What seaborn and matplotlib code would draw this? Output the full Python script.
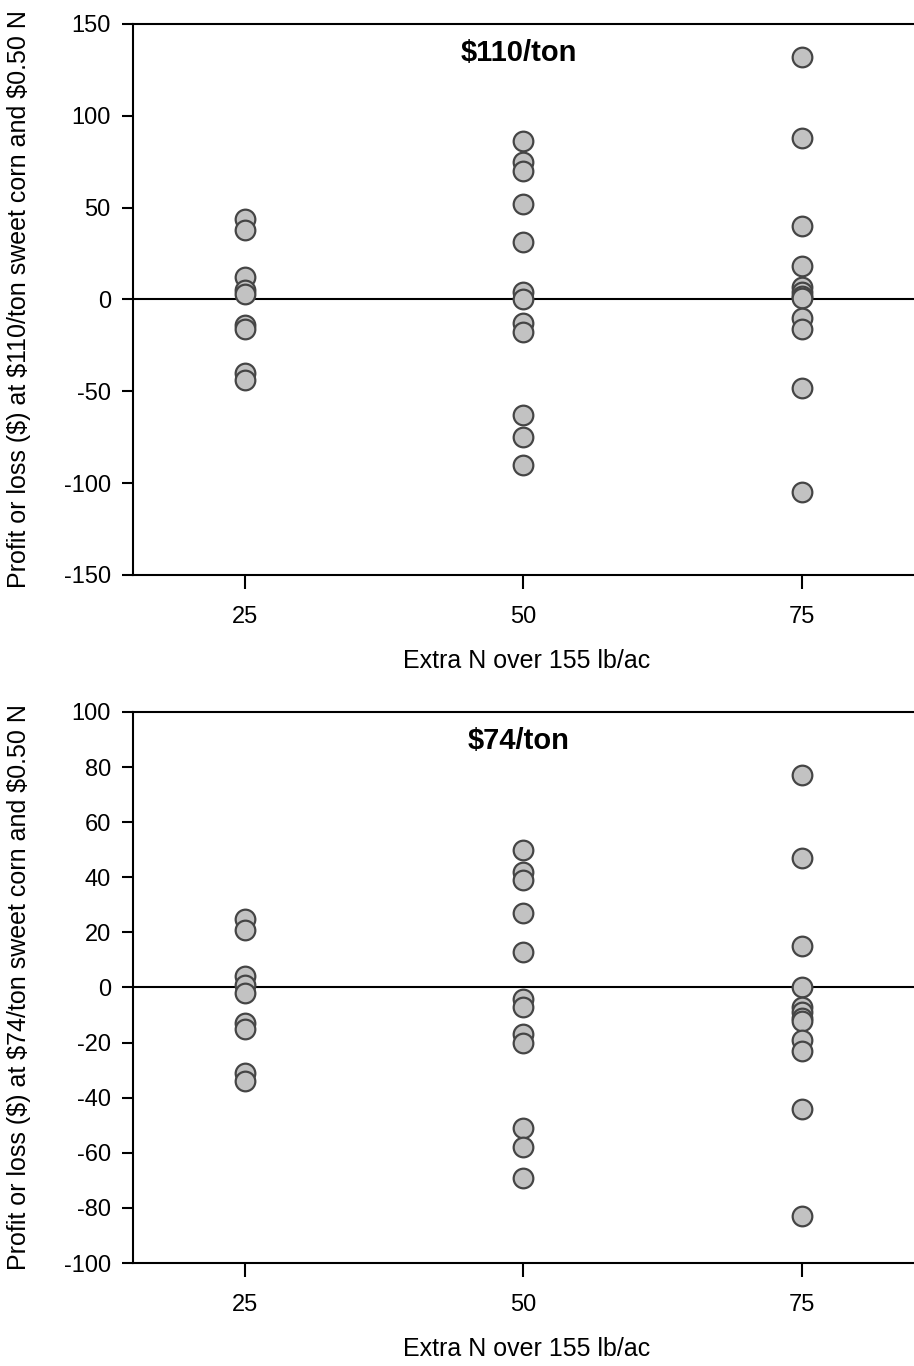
import numpy as np
import pandas as pd
import matplotlib
matplotlib.use("Agg")
import matplotlib.pyplot as plt
import seaborn as sns

# Extra N applied over 155 lb/ac
n_levels = [25, 50, 75]

# Profit or loss ($) at $110/ton sweet corn, $0.50 N
profit_110_n25 = [44, 38, 12, 5, 3, -14, -16, -40, -44]
profit_110_n50 = [86, 75, 70, 52, 31, 4, 0, -13, -18, -63, -75, -90]
profit_110_n75 = [132, 88, 40, 18, 7, 4, 2, 1, -10, -16, -48, -105]

# Profit or loss ($) at $74/ton sweet corn, $0.50 N
profit_74_n25 = [25, 21, 4, 1, -2, -13, -15, -31, -34]
profit_74_n50 = [50, 42, 39, 27, 13, -4, -7, -17, -20, -51, -58, -69]
profit_74_n75 = [77, 47, 15, 0, -7, -9, -11, -12, -19, -23, -44, -83]

panel_titles = ["$110/ton", "$74/ton"]
y_labels = ["Profit or loss ($) at $110/ton sweet corn and $0.50 N",
            "Profit or loss ($) at $74/ton sweet corn and $0.50 N"]
x_label = "Extra N over 155 lb/ac"
y_ticks_top = [-150, -100, -50, 0, 50, 100, 150]
y_ticks_bottom = [-100, -80, -60, -40, -20, 0, 20, 40, 60, 80, 100]


def to_frame(groups):
    rows = []
    for n, vals in zip(n_levels, groups):
        rows += [{"n": n, "profit": v} for v in vals]
    return pd.DataFrame(rows)


df_110 = to_frame([profit_110_n25, profit_110_n50, profit_110_n75])
df_74 = to_frame([profit_74_n25, profit_74_n50, profit_74_n75])

sns.set_style("ticks")
plt.rcParams["font.family"] = ["Liberation Sans", "DejaVu Sans"]
plt.rcParams["axes.unicode_minus"] = False
plt.rcParams["text.color"] = "black"
plt.rcParams["axes.labelcolor"] = "black"
plt.rcParams["xtick.color"] = "black"
plt.rcParams["ytick.color"] = "black"

fig = plt.figure(figsize=(9.14, 13.66), dpi=100)
ax_top = fig.add_axes([0.1455, 0.5791, 0.8545, 0.4034])
ax_bot = fig.add_axes([0.1455, 0.0754, 0.8545, 0.4034])

panels = [
    (ax_top, df_110, panel_titles[0], y_labels[0], (-150, 150), y_ticks_top),
    (ax_bot, df_74, panel_titles[1], y_labels[1], (-100, 100), y_ticks_bottom),
]

for ax, df, title, ylab, ylim, yticks in panels:
    ax.axhline(0, color="black", lw=1.5, zorder=2)
    sns.scatterplot(data=df, x="n", y="profit", ax=ax, s=200,
                    color="#c2c2c2", edgecolor="#454545", linewidth=1.6,
                    zorder=3, legend=False)
    ax.set_xlim(15, 85)
    ax.set_ylim(*ylim)
    ax.set_xticks(n_levels)
    ax.set_yticks(yticks)
    ax.tick_params(axis="x", length=10, width=1.5, pad=12, labelsize=17,
                   colors="black")
    ax.tick_params(axis="y", length=8, width=1.5, pad=8, labelsize=17,
                   colors="black")
    for side in ["left", "bottom", "top"]:
        ax.spines[side].set_linewidth(1.5)
        ax.spines[side].set_color("black")
    ax.spines["right"].set_visible(False)

    ax.set_xlabel(x_label, fontsize=18, color="black")
    ax.set_ylabel(ylab, fontsize=18, color="black")
    ax.xaxis.set_label_coords(0.5045, -0.135)
    ax.yaxis.set_label_coords(-0.131, 0.5)

    ax.text(49.6, 0.947, title, transform=ax.get_xaxis_transform(),
            ha="center", va="center", fontsize=21, fontweight="bold",
            color="black")

fig.savefig("out.png", dpi=100)
